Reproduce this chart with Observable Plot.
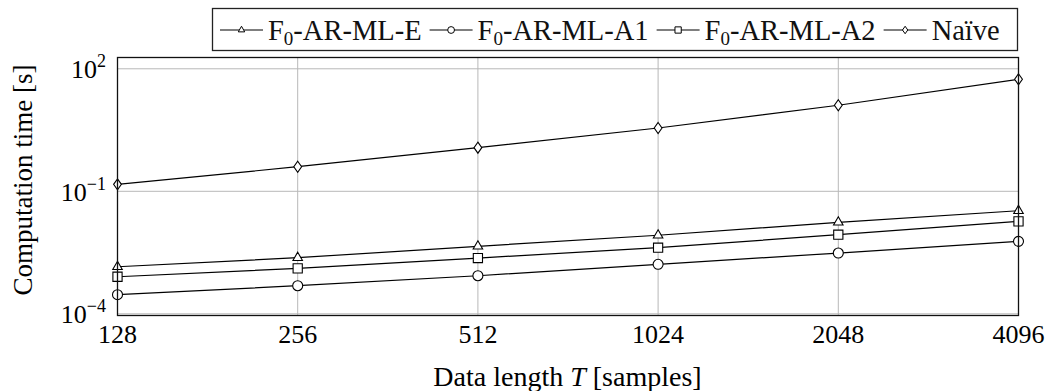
<!DOCTYPE html>
<html>
<head>
<meta charset="utf-8">
<script src="https://cdn.jsdelivr.net/npm/d3@7"></script>
<script src="https://cdn.jsdelivr.net/npm/@observablehq/plot@0.6"></script>
<style>
  html, body { margin: 0; padding: 0; background: white; }
  #wrap { width: 1047px; height: 391px; }
</style>
</head>
<body>
<div id="wrap"></div>
<script>
// ---- data ----
const T = [128, 256, 512, 1024, 2048, 4096];
const seriesNames = ["F0-AR-ML-E", "F0-AR-ML-A1", "F0-AR-ML-A2", "Naïve"];
const timeE     = [1.42e-3, 2.37e-3, 4.5e-3, 8.4e-3, 0.0174, 0.0335];
const timeA1    = [2.94e-4, 4.88e-4, 8.57e-4, 1.63e-3, 3.08e-3, 5.96e-3];
const timeA2    = [8.1e-4, 1.30e-3, 2.32e-3, 4.16e-3, 8.65e-3, 0.0184];
const timeNaive = [0.148, 0.40, 1.17, 3.55, 12.8, 55.4];
const yTicks = [1e-4, 1e-1, 1e2];
const yTickExp = ["−4", "−1", "2"];

// ---- symbols ----
const rOf = size => Math.sqrt(size / Math.PI);
const triSym = { draw(ctx, size) { const r = rOf(size); ctx.moveTo(0, -1.1 * r); ctx.lineTo(0.95 * r, 0.55 * r); ctx.lineTo(-0.95 * r, 0.55 * r); ctx.closePath(); } };
const cirSym = { draw(ctx, size) { const r = rOf(size); ctx.moveTo(r, 0); ctx.arc(0, 0, r, 0, 2 * Math.PI); } };
const sqSym  = { draw(ctx, size) { const r = rOf(size) * 0.92; ctx.rect(-r, -r, 2 * r, 2 * r); } };
const diaSym = { draw(ctx, size) { const r = rOf(size); ctx.moveTo(0, -1.1 * r); ctx.lineTo(0.78 * r, 0); ctx.lineTo(0, 1.1 * r); ctx.lineTo(-0.78 * r, 0); ctx.closePath(); } };
const symbols = [triSym, cirSym, sqSym, diaSym];
const values = [timeE, timeA1, timeA2, timeNaive];

const rows = [];
seriesNames.forEach((s, i) => T.forEach((t, j) => rows.push({ T: t, time: values[i][j], series: s })));

const dots = seriesNames.map((s, i) =>
  Plot.dot(rows.filter(d => d.series === s), { x: "T", y: "time", r: 5, symbol: symbols[i], fill: "white", stroke: "black", strokeWidth: 1.1 })
);

const FONT = "'Liberation Serif', 'Times New Roman', serif";
const FS = 26;
const chart = Plot.plot({
  width: 1047, height: 391,
  marginLeft: 117, marginRight: 29, marginTop: 57, marginBottom: 76,
  style: { fontFamily: FONT, fontSize: FS + "px", background: "white", color: "black", overflow: "visible" },
  x: { type: "log", base: 2, domain: [128, 4096] },
  y: { type: "log", domain: [9.1e-5, 189], axis: null },
  marks: [
    Plot.gridX(T, { stroke: "#b8b8b8", strokeOpacity: 1, strokeWidth: 1 }),
    Plot.gridY(yTicks, { stroke: "#b8b8b8", strokeOpacity: 1, strokeWidth: 1 }),
    Plot.axisX(T, { tickSize: 0, tickPadding: 9, tickFormat: d => String(d), label: null, fontSize: FS }),
    Plot.line(rows, { x: "T", y: "time", z: "series", stroke: "black", strokeWidth: 1.2 }),
    ...dots,
    Plot.frame({ stroke: "#111", strokeWidth: 1.3 })
  ]
});

document.getElementById("wrap").appendChild(chart);

const ys = chart.scale("y");
const xs = chart.scale("x");
const svg = d3.select(chart);

// y tick labels with superscripts, placed through the y scale
yTicks.forEach((v, i) => {
  const t = svg.append("text")
    .attr("x", 106).attr("y", ys.apply(v) + 10)
    .attr("text-anchor", "end").attr("font-family", FONT)
    .attr("font-size", FS).attr("fill", "black");
  t.append("tspan").text("10");
  t.append("tspan").attr("font-size", 18).attr("dy", -11).text(yTickExp[i]);
});

// axis titles
const xMid = (xs.range[0] + xs.range[1]) / 2;
const xt = svg.append("text").attr("x", xMid).attr("y", 386).attr("text-anchor", "middle")
  .attr("font-family", FONT).attr("font-size", 28).attr("fill", "black");
xt.append("tspan").text("Data length ");
xt.append("tspan").attr("font-style", "italic").text("T");
xt.append("tspan").text(" [samples]");

const yMid = (ys.range[0] + ys.range[1]) / 2;
svg.append("text").attr("transform", `translate(32,${yMid - 6}) rotate(-90)`)
  .attr("text-anchor", "middle").attr("font-family", FONT).attr("font-size", 27).attr("fill", "black")
  .text("Computation time [s]");

// legend (inside the SVG, top margin)
const LFS = 28.5;
const lg = svg.append("g").attr("font-family", FONT).attr("font-size", LFS).attr("fill", "#111")
  .attr("text-anchor", "start");
lg.append("rect").attr("x", 212.5).attr("y", 8.5).attr("width", 805).attr("height", 42)
  .attr("fill", "white").attr("stroke", "#222").attr("stroke-width", 1.3);
let cx = 220;
const cy = 30;
seriesNames.forEach((s, i) => {
  lg.append("line").attr("x1", cx).attr("x2", cx + 43).attr("y1", cy).attr("y2", cy)
    .attr("stroke", "black").attr("stroke-width", 1.2);
  lg.append("path").attr("transform", `translate(${cx + 21.5},${cy})`)
    .attr("d", d3.symbol(symbols[i], Math.PI * 3.4 * 3.4)())
    .attr("fill", "white").attr("stroke", "black").attr("stroke-width", 1);
  const t = lg.append("text").attr("x", cx + 48).attr("y", cy + 10).attr("text-anchor", "start");
  if (s.startsWith("F0")) {
    t.append("tspan").text("F");
    t.append("tspan").attr("font-size", 19).attr("dy", 5).text("0");
    t.append("tspan").attr("dy", -5).text(s.slice(2));
  } else {
    t.text(s);
  }
  const w = t.node().getComputedTextLength();
  cx = cx + 48 + w + 8;
});
</script>
</body>
</html>
